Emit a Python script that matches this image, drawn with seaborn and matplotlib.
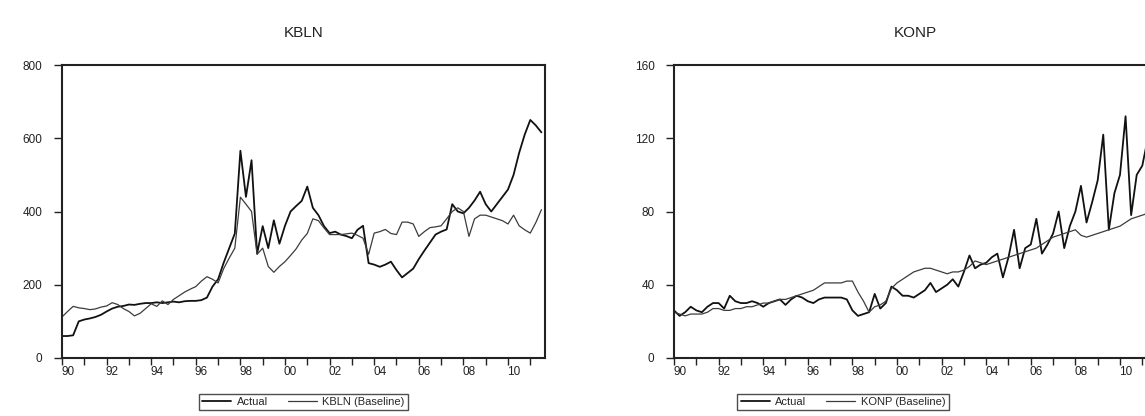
import numpy as np
import pandas as pd
import matplotlib
matplotlib.use("Agg")
import matplotlib.pyplot as plt
import seaborn as sns

# ---------------- data (quarterly, 1990Q1 .. 2011Q3) ----------------
start_year = 1990
kbln_actual = [60, 60, 62, 100,
               105, 108, 112, 118,
               127, 135, 140, 142,
               146, 145, 148, 150,
               150, 152, 150, 152,
               154, 152, 155, 156,
               156, 158, 165, 195,
               215, 260, 300, 340,
               566, 440, 540, 285,
               360, 300, 376, 312,
               361, 400, 415, 429,
               468, 410, 390, 360,
               341, 345, 337, 333,
               327, 350, 361, 259,
               255, 249, 255, 263,
               240, 220, 232, 244,
               270, 293, 315, 337,
               345, 351, 420, 400,
               395, 410, 430, 454,
               420, 400, 420, 440,
               460, 500, 560, 610,
               650, 635, 616]
kbln_baseline = [112, 127, 141, 137,
                 135, 132, 134, 139,
                 142, 151, 146, 135,
                 127, 115, 122, 135,
                 148, 141, 156, 146,
                 160, 170, 180, 188,
                 195, 210, 222, 215,
                 205, 244, 273, 300,
                 439, 420, 400, 283,
                 300, 250, 234, 250,
                 263, 280, 298, 322,
                 340, 380, 375, 355,
                 337, 337, 337, 339,
                 341, 335, 327, 283,
                 341, 345, 351, 340,
                 337, 371, 371, 366,
                 332, 345, 356, 358,
                 361, 380, 400, 410,
                 400, 332, 380, 390,
                 390, 385, 380, 375,
                 366, 390, 361, 350,
                 341, 370, 405]
konp_actual = [26, 23, 25, 28,
               26, 25, 28, 30,
               30, 27, 34, 31,
               30, 30, 31, 30,
               28, 30, 31, 32,
               29, 32, 34, 33,
               31, 30, 32, 33,
               33, 33, 33, 32,
               26, 23, 24, 25,
               35, 27, 30, 39,
               37, 34, 34, 33,
               35, 37, 41, 36,
               38, 40, 43, 39,
               47, 56, 49, 51,
               52, 55, 57, 44,
               55, 70, 49, 60,
               62, 76, 57, 62,
               68, 80, 60, 72,
               80, 94, 74, 85,
               97, 122, 70, 90,
               100, 132, 78, 100,
               105, 120, 85]
konp_baseline = [25, 24, 23, 24,
                 24, 24, 25, 27,
                 27, 26, 26, 27,
                 27, 28, 28, 29,
                 30, 30, 31, 32,
                 32, 33, 34, 35,
                 36, 37, 39, 41,
                 41, 41, 41, 42,
                 42, 36, 31, 25,
                 28, 29, 31, 38,
                 41, 43, 45, 47,
                 48, 49, 49, 48,
                 47, 46, 47, 47,
                 48, 50, 53, 52,
                 51, 52, 53, 54,
                 55, 56, 57, 58,
                 59, 60, 62, 64,
                 66, 67, 68, 69,
                 70, 67, 66, 67,
                 68, 69, 70, 71,
                 72, 74, 76, 77,
                 78, 79, 80]
x_tick_labels = ["90", "92", "94", "96", "98", "00", "02", "04", "06", "08", "10"]
kbln_yticks = [0, 200, 400, 600, 800]
konp_yticks = [0, 40, 80, 120, 160]

n = len(kbln_actual)
t = start_year + np.arange(n) / 4.0

def long_df(actual, baseline, name):
    return pd.DataFrame({
        "t": np.concatenate([t, t]),
        "value": np.concatenate([actual, baseline]),
        "series": ["Actual"] * n + [f"{name} (Baseline)"] * n,
    })

sns.set_style("ticks")
plt.rcParams["font.family"] = ["Liberation Sans", "DejaVu Sans"]

fig = plt.figure(figsize=(11.45, 4.16), dpi=100)
ax_l = fig.add_axes([62 / 1145, 58 / 416, 483 / 1145, 293 / 416])
ax_r = fig.add_axes([674 / 1145, 58 / 416, 483 / 1145, 293 / 416])

panels = [
    (ax_l, kbln_actual, kbln_baseline, "KBLN", kbln_yticks, 0.5),
    (ax_r, konp_actual, konp_baseline, "KONP", konp_yticks, 0.35),
]

for ax, act, base, name, yt, leg_x in panels:
    df = long_df(act, base, name)
    sns.lineplot(data=df, x="t", y="value", hue="series", ax=ax,
                 palette=["#111111", "#3c3c3c"], size="series",
                 sizes=[1.3, 0.9], legend=True)
    ax.set_xlim(1990, 1990 + 21.66)
    ax.set_ylim(yt[0], yt[-1])
    ax.set_yticks(yt)
    ax.set_yticklabels([str(v) for v in yt], fontsize=8.5, color="#222222")
    # year ticks, labels between
    ax.set_xticks(np.arange(1990, 2012))
    ax.set_xticklabels([])
    ax.set_xticks(np.arange(1990, 2011, 2) + 0.25, minor=True)
    ax.set_xticklabels(x_tick_labels, minor=True, fontsize=8.5, color="#222222")
    ax.tick_params(axis="x", which="major", direction="out", length=5, width=1.0, color="#222222")
    ax.tick_params(axis="x", which="minor", length=0, pad=6)
    ax.tick_params(axis="y", direction="out", length=6, width=1.0, color="#222222", pad=8)
    for s in ax.spines.values():
        s.set_visible(True)
        s.set_linewidth(1.5)
        s.set_color("#222222")
    ax.set_xlabel("")
    ax.set_ylabel("")
    ax.set_title(name, fontsize=11, pad=20, color="#222222")
    handles, labels = ax.get_legend_handles_labels()
    leg = ax.legend(handles=handles, labels=labels, loc="center",
                    bbox_to_anchor=(leg_x, -0.15), ncol=2, frameon=True,
                    fontsize=8, handlelength=2.6, handletextpad=0.5,
                    columnspacing=1.8, borderpad=0.3, fancybox=False)
    leg.get_frame().set_edgecolor("#222222")
    leg.get_frame().set_linewidth(1.0)

fig.savefig("out.png", dpi=100)
